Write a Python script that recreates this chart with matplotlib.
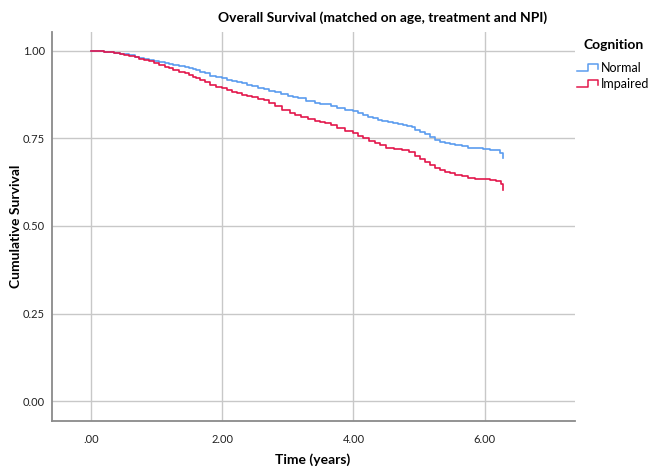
import matplotlib
matplotlib.use('Agg')
import matplotlib.pyplot as plt
from matplotlib.lines import Line2D

plt.rcParams['font.family'] = ['Lato', 'DejaVu Sans']

# Kaplan-Meier step data (time in years, cumulative survival)
normal_t = [0, 0.1, 0.2, 0.27, 0.35, 0.43, 0.5, 0.58, 0.67, 0.73, 0.8, 0.88, 0.95, 1.04,
            1.13, 1.19, 1.25, 1.34, 1.43, 1.49, 1.55, 1.6, 1.66, 1.73, 1.81, 1.9, 1.99, 2.07,
            2.15, 2.22, 2.3, 2.37, 2.45, 2.54, 2.63, 2.71, 2.8, 2.9, 3.0, 3.08, 3.15, 3.28,
            3.41, 3.49, 3.57, 3.66, 3.75, 3.87, 3.99, 4.07, 4.15, 4.22, 4.3, 4.37, 4.43, 4.52,
            4.6, 4.68, 4.75, 4.82, 4.89, 4.94, 5.02, 5.09, 5.16, 5.24, 5.32, 5.4, 5.48, 5.55,
            5.65, 5.75, 5.86, 5.98, 6.09, 6.2, 6.23, 6.28]
normal_s = [1.0, 0.999, 0.998, 0.996, 0.994, 0.992, 0.99, 0.987, 0.984, 0.981, 0.978, 0.975,
            0.972, 0.968, 0.965, 0.963, 0.961, 0.958, 0.955, 0.951, 0.948, 0.945, 0.941, 0.936,
            0.929, 0.925, 0.922, 0.918, 0.914, 0.911, 0.907, 0.903, 0.899, 0.895, 0.891, 0.886,
            0.882, 0.877, 0.872, 0.869, 0.865, 0.858, 0.851, 0.849, 0.848, 0.843, 0.838, 0.832,
            0.827, 0.822, 0.817, 0.812, 0.808, 0.804, 0.800, 0.796, 0.793, 0.790, 0.788, 0.786,
            0.784, 0.774, 0.768, 0.762, 0.754, 0.746, 0.741, 0.737, 0.733, 0.730, 0.727, 0.724,
            0.722, 0.720, 0.718, 0.716, 0.708, 0.695]

impaired_t = [0, 0.1, 0.2, 0.27, 0.35, 0.43, 0.5, 0.58, 0.67, 0.73, 0.8, 0.88, 0.95, 1.04,
              1.13, 1.19, 1.25, 1.34, 1.43, 1.49, 1.55, 1.6, 1.66, 1.73, 1.81, 1.9, 1.99, 2.07,
              2.15, 2.22, 2.3, 2.37, 2.45, 2.54, 2.63, 2.71, 2.8, 2.91, 3.03, 3.11, 3.2, 3.3,
              3.41, 3.49, 3.57, 3.66, 3.75, 3.87, 3.99, 4.07, 4.15, 4.24, 4.33, 4.41, 4.5, 4.62,
              4.74, 4.84, 4.94, 5.02, 5.09, 5.16, 5.24, 5.32, 5.4, 5.48, 5.55, 5.65, 5.75, 5.86,
              5.98, 6.08, 6.18, 6.25, 6.28]
impaired_s = [1.0, 0.999, 0.998, 0.996, 0.993, 0.991, 0.988, 0.985, 0.982, 0.978, 0.974, 0.970,
              0.965, 0.960, 0.955, 0.951, 0.946, 0.941, 0.936, 0.931, 0.926, 0.922, 0.917, 0.910,
              0.903, 0.898, 0.893, 0.889, 0.884, 0.880, 0.875, 0.872, 0.868, 0.864, 0.860, 0.852,
              0.843, 0.832, 0.822, 0.817, 0.812, 0.806, 0.800, 0.797, 0.793, 0.787, 0.780, 0.772,
              0.765, 0.758, 0.750, 0.743, 0.736, 0.730, 0.724, 0.720, 0.717, 0.710, 0.701, 0.692,
              0.684, 0.675, 0.665, 0.660, 0.655, 0.650, 0.646, 0.642, 0.638, 0.635, 0.633, 0.631,
              0.629, 0.620, 0.603]

groups = ['Normal', 'Impaired']
colors = ['#5b9cef', '#e3174c']
x_ticks = [0, 2, 4, 6]
x_labels = ['.00', '2.00', '4.00', '6.00']
y_ticks = [0, 0.25, 0.5, 0.75, 1.0]
y_labels = ['0.00', '0.25', '0.50', '0.75', '1.00']

fig = plt.figure(figsize=(6.52, 4.69), dpi=100)
ax = fig.add_axes([52/652, 1 - 421/469, (575 - 52)/652, (421 - 32)/469])

series = [(normal_t, normal_s), (impaired_t, impaired_s)]
for (t, s), c in zip(series, colors):
    ax.step(t, s, where='post', color=c, lw=1.2, zorder=3)

ax.set_xlim(-0.6, 7.38)
ax.set_ylim(-0.057, 1.054)
ax.set_xticks(x_ticks)
ax.set_xticklabels(x_labels)
ax.set_yticks(y_ticks)
ax.set_yticklabels(y_labels)
ax.tick_params(length=0, labelsize=8, colors='#222222')
ax.tick_params(axis='x', pad=9)
ax.tick_params(axis='y', pad=5)
ax.grid(True, color='#c8c8c8', lw=1)
ax.set_axisbelow(True)
for side in ['top', 'right']:
    ax.spines[side].set_visible(False)
for side in ['left', 'bottom']:
    ax.spines[side].set_color('#8a8a8a')
    ax.spines[side].set_linewidth(1.3)

# axis titles and chart title placed in figure pixels
fig.text(313/652, 1 - 460/469, 'Time (years)', ha='center', va='center',
         fontsize=10, fontweight='bold')
fig.text(16/652, 1 - 226/469, 'Cumulative Survival', ha='center', va='center',
         rotation=90, fontsize=10, fontweight='bold')
fig.text(383/652, 1 - 18/469, 'Overall Survival (matched on age, treatment and NPI)',
         ha='center', va='center', fontsize=10, fontweight='bold')

# legend drawn by hand with step-shaped handles, like SPSS
fig.text(614/652, 1 - 45/469, 'Cognition', ha='center', va='center',
         fontsize=10, fontweight='bold')
for i, (g, c) in enumerate(zip(groups, colors)):
    yc = 68 + i * 16
    xs = [577, 588, 588, 598, 598]
    ys = [yc + 3, yc + 3, yc - 4, yc - 4, yc + 1]
    fig.add_artist(Line2D([x/652 for x in xs], [1 - y/469 for y in ys],
                          color=c, lw=1.1, transform=fig.transFigure))
    fig.text(601/652, 1 - yc/469, g, ha='left', va='center', fontsize=9)

fig.savefig('out.png', dpi=100)
